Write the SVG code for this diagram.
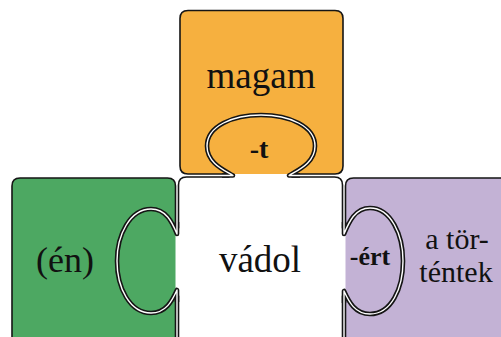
<svg xmlns="http://www.w3.org/2000/svg" width="501" height="337" viewBox="0 0 501 337">
<style>
.edge{fill:none;stroke:#151515;stroke-width:1.6;stroke-linecap:round;stroke-linejoin:round}
.tabo{fill:none;stroke:#151515;stroke-width:4.6;stroke-linejoin:round;stroke-linecap:butt}
.tabi{fill:none;stroke:#ffffff;stroke-width:1.4;stroke-linejoin:round;stroke-linecap:butt}
.lbl{font-family:'Liberation Serif','DejaVu Serif',serif;fill:#111;text-anchor:middle}
.suf{font-family:'Liberation Serif','DejaVu Serif',serif;fill:#111;text-anchor:middle;font-weight:bold}
</style>
<rect x="0" y="0" width="501" height="337" fill="#ffffff"/>
<g id="magam">
<rect x="180" y="10.5" width="163" height="163.5" rx="8" fill="#F6B03F"/>
<path class="edge" d="M296,174 H335 Q343,174 343,166 V18.5 Q343,10.5 335,10.5 H188 Q180,10.5 180,18.5 V166 Q180,174 188,174 H226"/>
<text class="lbl" x="261" y="88" font-size="37">magam</text>
</g>
<g id="en">
<rect x="12" y="178" width="163.5" height="200" rx="7" fill="#4DA862"/>
<path class="edge" d="M175.5,226 V186 Q175.5,178 167.5,178 H20 Q12,178 12,186 V345 M175.5,298 V345"/>
<text class="lbl" x="65" y="272" font-size="36">(én)</text>
</g>
<g id="torteneket">
<rect x="345.5" y="178" width="200" height="200" rx="7" fill="#C3B2D5"/>
<path class="edge" d="M345.5,226 V186 Q345.5,178 353.5,178 H510 M345.5,298 V345"/>
<text class="lbl" x="457" y="249" font-size="30">a tör-</text>
<text class="lbl" x="456" y="282" font-size="30">téntek</text>
</g>
<g id="vadol">
<path class="edge" d="M229,177 H186.5 Q178.5,177 178.5,185 V228 M178.5,296 V345 M292,177 H334.5 Q342.5,177 342.5,185 V228 M342.5,296 V345"/>
<text class="lbl" x="260" y="272" font-size="37">vádol</text>
</g>
<g id="connectors">
<g id="tab-t">
<path class="tabo" d="M222,175.5 L233,175.5 C224,170 207,163 207,146 C207,126 233,115 261,115 C289,115 315,126 315,146 C315,163 298,170 289,175.5 L300,175.5"/>
<path class="tabi" d="M222,175.5 L233,175.5 C224,170 207,163 207,146 C207,126 233,115 261,115 C289,115 315,126 315,146 C315,163 298,170 289,175.5 L300,175.5"/>
<text class="suf" x="259" y="158" font-size="28">-t</text>
</g>
<g id="tab-en">
<path class="tabo" d="M177,222 L177,234 C172,222 166,209 151,209 C130,209 117,235 117,261 C117,288 130,313 151,313 C166,313 172,301 177,290 L177,302"/>
<path class="tabi" d="M177,222 L177,234 C172,222 166,209 151,209 C130,209 117,235 117,261 C117,288 130,313 151,313 C166,313 172,301 177,290 L177,302"/>
</g>
<g id="tab-ert">
<path class="tabo" d="M344,222 L344,234 C349,222 355,208 370,208 C391,208 403,235 403,261 C403,289 391,314 370,314 C355,314 349,302 344,291 L344,303"/>
<path class="tabi" d="M344,222 L344,234 C349,222 355,208 370,208 C391,208 403,235 403,261 C403,289 391,314 370,314 C355,314 349,302 344,291 L344,303"/>
<text class="suf" x="370" y="265" font-size="26">-ért</text>
</g>
</g>
</svg>
